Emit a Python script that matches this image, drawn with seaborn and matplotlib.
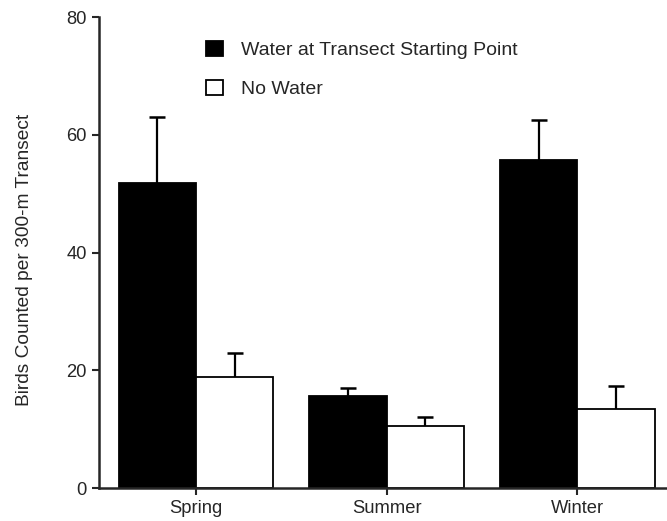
import pandas as pd
import numpy as np
import matplotlib
matplotlib.use("Agg")
import matplotlib.pyplot as plt
import seaborn as sns

# values
seasons = ["Spring", "Summer", "Winter"]
groups = ["Water at Transect Starting Point", "No Water"]
water_mean = [51.8, 15.7, 55.7]
water_err = [11.2, 1.3, 6.8]
nowater_mean = [18.8, 10.6, 13.4]
nowater_err = [4.2, 1.5, 3.9]

df = pd.DataFrame({
    "Season": seasons * 2,
    "Group": [groups[0]] * 3 + [groups[1]] * 3,
    "Birds": water_mean + nowater_mean,
    "Err": water_err + nowater_err,
})

sns.set_style("ticks")
plt.rcParams["font.family"] = ["Liberation Sans", "DejaVu Sans"]

fig = plt.figure(figsize=(6.67, 5.21), dpi=100)
ax = fig.add_axes([0.148, 0.063, 0.852, 0.904])

sns.barplot(data=df, x="Season", y="Birds", hue="Group", order=seasons,
            hue_order=groups, palette=["black", "white"], edgecolor="black",
            linewidth=1.3, width=0.81, errorbar=None, ax=ax)

# upper-only error bars, placed at the bar centres seaborn drew
bars = [p for p in ax.patches if p.get_width() > 0 and p.get_height() > 0]
bars = sorted(bars, key=lambda p: p.get_x())
xs = np.array([p.get_x() + p.get_width() / 2 for p in bars])
heights = np.array([p.get_height() for p in bars])
err_lookup = dict(zip(water_mean + nowater_mean, water_err + nowater_err))
errs = np.array([err_lookup[round(h, 1)] for h in heights])
ax.vlines(xs, heights, heights + errs, color="black", linewidth=1.6, zorder=0.5)
ax.plot(xs, heights + errs, ls="none", marker="_", markersize=11,
        mew=1.8, color="black", zorder=0.5)

ax.set_ylim(0, 80)
ax.set_yticks([0, 20, 40, 60, 80])
ax.set_xlim(-0.51, 2.47)
ax.set_xlabel("")
ax.set_ylabel("Birds Counted per 300-m Transect", fontsize=13.8)
ax.yaxis.set_label_coords(-0.116, 0.485)
ax.tick_params(axis="both", labelsize=13.2, length=5, width=1.5, direction="out")
for s in ["top", "right"]:
    ax.spines[s].set_visible(False)
for s in ["left", "bottom"]:
    ax.spines[s].set_linewidth(1.8)

ax.legend(loc="upper left", bbox_to_anchor=(0.158, 0.987), frameon=False,
          fontsize=14, handlelength=0.85, handleheight=0.85, handletextpad=0.95,
          labelspacing=1.05)

fig.savefig("out.png", dpi=100)
